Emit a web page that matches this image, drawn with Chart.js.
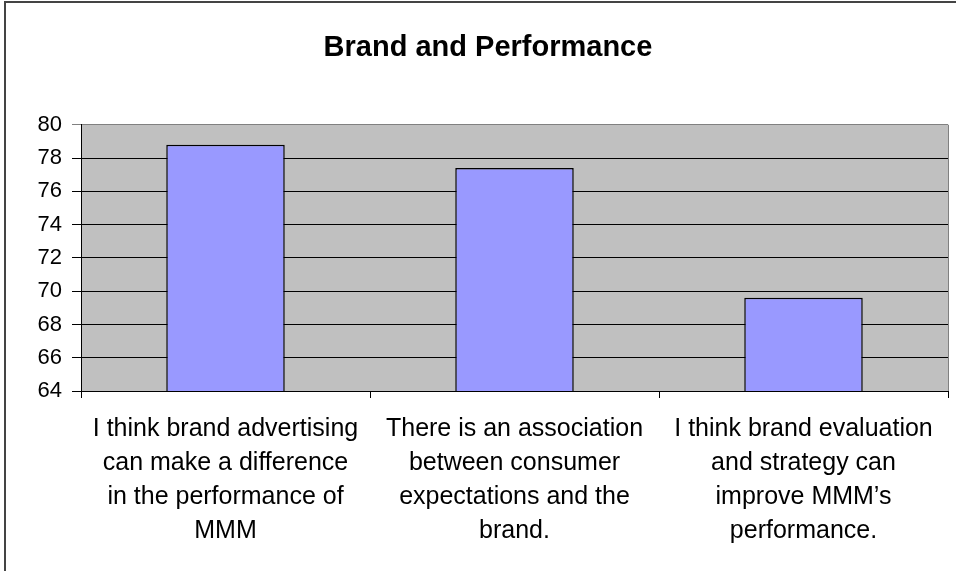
<!DOCTYPE html>
<html>
<head>
<meta charset="utf-8">
<script src="https://cdn.jsdelivr.net/npm/chart.js@4"></script>
<style>
  html, body { margin: 0; padding: 0; background: #fff; overflow: hidden; }
  #wrap { position: relative; width: 956px; height: 571px; }
  #frame { position: absolute; left: 4px; top: 1px; width: 1000px; height: 1000px;
           border-left: 2px solid #444; border-top: 2px solid #444; box-sizing: border-box; pointer-events: none; }
  canvas { position: absolute; left: 0; top: 0; }
</style>
</head>
<body>
<div id="wrap">
  <canvas id="c" width="956" height="571"></canvas>
  <div id="frame"></div>
</div>
<script>
const titleText = 'Brand and Performance';
const categories = [
  ['I think brand advertising', 'can make a difference', 'in the performance of', 'MMM'],
  ['There is an association', 'between consumer', 'expectations and the', 'brand.'],
  ['I think brand evaluation', 'and strategy can', 'improve MMM\u2019s', 'performance.']
];
const values = [78.8, 77.4, 69.6];
const yMin = 64, yMax = 80, yStep = 2;

const plotBg = {
  id: 'plotBg',
  beforeDraw(chart) {
    const { ctx, chartArea: a } = chart;
    ctx.save();
    ctx.fillStyle = '#C0C0C0';
    ctx.fillRect(a.left, a.top, a.right - a.left, a.bottom - a.top);
    ctx.restore();
  },
  afterDraw(chart) {
    const { ctx, chartArea: a } = chart;
    ctx.save();
    ctx.strokeStyle = '#808080';
    ctx.lineWidth = 1;
    ctx.beginPath();
    ctx.moveTo(a.right + 0.5, a.top);
    ctx.lineTo(a.right + 0.5, a.bottom);
    ctx.stroke();
    ctx.restore();
  }
};

new Chart(document.getElementById('c'), {
  type: 'bar',
  data: {
    labels: categories,
    datasets: [{
      data: values,
      backgroundColor: '#9999FF',
      borderColor: '#000000',
      borderWidth: 1.5,
      barPercentage: 0.41,
      categoryPercentage: 1.0
    }]
  },
  options: {
    responsive: false,
    animation: false,
    layout: { padding: { left: 28, right: 8, top: 0, bottom: 0 } },
    plugins: {
      legend: { display: false },
      tooltip: { enabled: false },
      title: {
        display: true,
        text: titleText,
        color: '#000',
        font: { family: '"Liberation Sans", Arial, sans-serif', size: 29, weight: 'bold', lineHeight: 1.2 },
        padding: { top: 31, bottom: 59 }
      }
    },
    scales: {
      x: {
        offset: true,
        grid: { display: true, drawOnChartArea: false, drawTicks: true, tickLength: 7, color: '#000', offset: true },
        border: { display: true, color: '#000', width: 1 },
        ticks: {
          color: '#000', padding: 14, maxRotation: 0, autoSkip: false,
          font: { family: '"Liberation Sans", Arial, sans-serif', size: 25, lineHeight: 1.356 }
        },
        afterFit(scale) { scale.height = 180; }
      },
      y: {
        min: yMin, max: yMax,
        grid: {
          color: (ctx) => (ctx.tick && ctx.tick.value === yMax) ? '#808080' : '#000',
          drawTicks: true, tickLength: 9, lineWidth: 1
        },
        border: { display: true, color: '#000', width: 1 },
        ticks: {
          stepSize: yStep, color: '#000', padding: 10,
          font: { family: '"Liberation Sans", Arial, sans-serif', size: 22 }
        },
        afterFit(scale) { scale.width = 53; }
      }
    }
  },
  plugins: [plotBg]
});
</script>
</body>
</html>
